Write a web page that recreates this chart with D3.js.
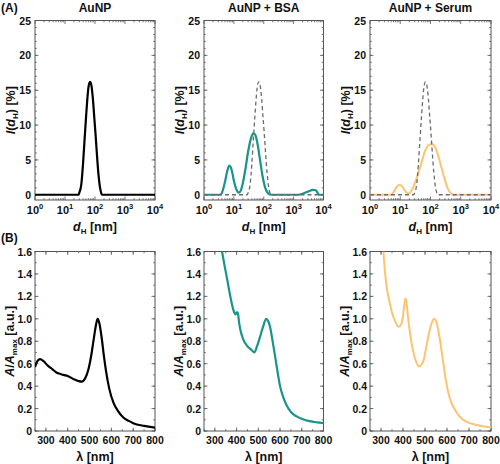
<!DOCTYPE html>
<html><head><meta charset="utf-8">
<script src="https://cdn.jsdelivr.net/npm/d3@7"></script>
<style>
body{margin:0;background:#fff;}
svg{font-family:"Liberation Sans",Arial,sans-serif;font-weight:bold;}
</style></head>
<body><svg id="c" width="500" height="464"></svg>
<script>
// ---------- DATA ----------
const panelTitles = ["AuNP", "AuNP + BSA", "AuNP + Serum"];
const seriesColors = ["#000000", "#17958a", "#fdc46f"];
// DLS intensity distributions: diameter [nm], intensity [%]
const dlsAuNP_d = [1, 25, 28, 30, 35, 40, 45, 50, 55, 60, 68, 75, 85, 95, 105, 115, 130, 145, 160, 170, 10000];
const dlsAuNP_I = [0, 0, 0, 0.3, 1.5, 4.5, 8, 11, 13.5, 15.3, 16.2, 15.8, 13.8, 11, 8.5, 6, 3, 1.2, 0.3, 0, 0];
const dlsBSA_d = [1, 3.5, 4, 5, 6, 7, 8, 9, 10, 12, 14.7, 17, 20, 25, 30, 38, 45, 52, 60, 75, 90, 110, 140, 180, 1500, 2000, 3000, 4500, 5500, 6500, 7000, 10000];
const dlsBSA_I = [0, 0, 0.3, 1.8, 3.4, 4.2, 3.9, 3.0, 2.0, 0.8, 0.3, 0.6, 1.7, 4.0, 6.2, 8.2, 8.8, 8.6, 7.6, 5, 2.8, 1.1, 0.2, 0, 0, 0.15, 0.45, 0.7, 0.65, 0.2, 0, 0];
const dlsSerum_d = [1, 5, 6, 7.5, 9.5, 12, 15, 19, 23, 30, 40, 50, 65, 85, 110, 140, 180, 230, 300, 380, 480, 570, 10000];
const dlsSerum_I = [0, 0, 0.4, 1.1, 1.45, 1.1, 0.45, 0.2, 0.5, 1.6, 3.2, 4.6, 6.2, 7.1, 7.3, 6.9, 5.6, 3.9, 2.1, 0.8, 0.15, 0, 0];
// UV-vis spectra: wavelength [nm], A/Amax
const uvAuNP_w = [250, 260, 273, 290, 310, 330, 350, 365, 380, 400, 430, 450, 464, 480, 495, 510, 520, 530, 537, 545, 555, 565, 575, 590, 610, 630, 655, 680, 700, 750, 800];
const uvAuNP_A = [0.57, 0.62, 0.64, 0.62, 0.58, 0.55, 0.52, 0.51, 0.50, 0.49, 0.46, 0.445, 0.44, 0.47, 0.55, 0.70, 0.83, 0.95, 1.0, 0.96, 0.84, 0.68, 0.54, 0.38, 0.25, 0.18, 0.12, 0.09, 0.07, 0.045, 0.03];
const uvBSA_w = [333, 345, 356, 371, 385, 395, 402, 406, 412, 420, 432, 450, 470, 481, 495, 508, 522, 536, 545, 554, 565, 577, 590, 600, 615, 630, 650, 676, 705, 736, 770, 800];
const uvBSA_A = [1.6, 1.47, 1.36, 1.2, 1.08, 1.04, 1.06, 1.05, 0.96, 0.88, 0.81, 0.755, 0.72, 0.70, 0.76, 0.84, 0.93, 1.0, 0.98, 0.93, 0.81, 0.67, 0.51, 0.40, 0.30, 0.23, 0.17, 0.13, 0.105, 0.088, 0.077, 0.07];
const uvSerum_w = [311, 318, 326, 341, 352, 364, 379, 390, 398, 405, 411, 415, 420, 426, 439, 459, 474, 492, 505, 515, 530, 541, 552, 560, 572, 583, 595, 606, 620, 636, 655, 674, 700, 735, 770, 800];
const uvSerum_A = [1.6, 1.42, 1.28, 1.13, 1.04, 0.98, 0.93, 0.945, 1.0, 1.11, 1.18, 1.16, 1.07, 0.96, 0.785, 0.62, 0.576, 0.62, 0.74, 0.845, 0.96, 1.0, 0.97, 0.90, 0.76, 0.61, 0.45, 0.34, 0.25, 0.19, 0.135, 0.1, 0.072, 0.054, 0.04, 0.03];
// ticks
const logTicks = [1, 10, 100, 1000, 10000];
const dlsYTicks = [0, 5, 10, 15, 20, 25];
const uvXTicks = [300, 400, 500, 600, 700, 800];
const uvYTicks = [0, 0.2, 0.4, 0.6, 0.8, 1.0, 1.2, 1.4, 1.6];

// ---------- LAYOUT ----------
const svg = d3.select("#c");
const cols = [[35, 155], [204, 323.5], [370, 491]];
const topY = [20.5, 200];
const botY = [251.5, 431];
const frameColor = "#555";

function frame(g, x0, x1, y0, y1) {
  g.append("rect").attr("x", x0).attr("y", y0).attr("width", x1 - x0).attr("height", y1 - y0)
    .attr("fill", "none").attr("stroke", frameColor).attr("stroke-width", 1);
}
function ticksAll(g, xs, ys, xScale, yScale, x0, x1, y0, y1, len) {
  xs.forEach(v => {
    const px = xScale(v);
    g.append("line").attr("x1", px).attr("x2", px).attr("y1", y1).attr("y2", y1 - len).attr("stroke", frameColor).attr("stroke-width", 0.8);
    g.append("line").attr("x1", px).attr("x2", px).attr("y1", y0).attr("y2", y0 + len).attr("stroke", frameColor).attr("stroke-width", 0.8);
  });
  ys.forEach(v => {
    const py = yScale(v);
    g.append("line").attr("x1", x0).attr("x2", x0 + len).attr("y1", py).attr("y2", py).attr("stroke", frameColor).attr("stroke-width", 0.8);
    g.append("line").attr("x1", x1).attr("x2", x1 - len).attr("y1", py).attr("y2", py).attr("stroke", frameColor).attr("stroke-width", 0.8);
  });
}
function zip(a, b) { return a.map((v, i) => [v, b[i]]); }

const dlsSets = [zip(dlsAuNP_d, dlsAuNP_I), zip(dlsBSA_d, dlsBSA_I), zip(dlsSerum_d, dlsSerum_I)];
const uvSets = [zip(uvAuNP_w, uvAuNP_A), zip(uvBSA_w, uvBSA_A), zip(uvSerum_w, uvSerum_A)];

cols.forEach((c, i) => {
  const [x0, x1] = c;
  // ----- top row DLS -----
  const gT = svg.append("g");
  const xs = d3.scaleLog().domain([1, 10000]).range([x0, x1]);
  const ys = d3.scaleLinear().domain([-0.75, 25]).range([topY[1], topY[0]]);
  frame(gT, x0, x1, topY[0], topY[1]);
  const minorX = [];
  for (let e = 0; e < 4; e++) for (let m = 2; m <= 9; m++) minorX.push(m * Math.pow(10, e));
  ticksAll(gT, minorX, d3.range(0, 26, 1), xs, ys, x0, x1, topY[0], topY[1], 1.8);
  ticksAll(gT, logTicks, dlsYTicks, xs, ys, x0, x1, topY[0], topY[1], 3.5);
  const lineT = d3.line().x(d => xs(d[0])).y(d => ys(d[1])).curve(d3.curveMonotoneX);
  gT.append("path").datum(dlsSets[i]).attr("d", lineT).attr("fill", "none")
    .attr("stroke", seriesColors[i]).attr("stroke-width", i === 2 ? 2 : 2.2).attr("stroke-linejoin", "round");
  if (i > 0) {
    gT.append("path").datum(dlsSets[0]).attr("d", lineT).attr("fill", "none")
      .attr("stroke", "#6b6b6b").attr("stroke-width", 1.3).attr("stroke-dasharray", "4,3");
  }
  logTicks.forEach((v, k) => {
    const t = gT.append("text").attr("x", xs(v)).attr("y", 214).attr("text-anchor", "middle")
      .attr("font-size", 11).attr("fill", "#111");
    t.append("tspan").text("10");
    t.append("tspan").attr("dy", -5).attr("font-size", 7.5).text(String(k));
  });
  dlsYTicks.forEach(v => {
    gT.append("text").attr("x", x0 - 4).attr("y", ys(v) + 4).attr("text-anchor", "end")
      .attr("font-size", 10.5).attr("fill", "#111").text(v);
  });
  const xt = gT.append("text").attr("x", (x0 + x1) / 2).attr("y", 231).attr("text-anchor", "middle")
    .attr("font-size", 12.5).attr("fill", "#111");
  xt.append("tspan").attr("font-style", "italic").text("d");
  xt.append("tspan").attr("font-size", 8).attr("dy", 3).text("H");
  xt.append("tspan").attr("dy", -3).text(" [nm]");
  const yt = gT.append("text").attr("transform", `translate(${x0 - 20},${(topY[0] + topY[1]) / 2}) rotate(-90)`)
    .attr("text-anchor", "middle").attr("font-size", 12.5).attr("fill", "#111");
  yt.append("tspan").attr("font-style", "italic").text("I");
  yt.append("tspan").text("(");
  yt.append("tspan").attr("font-style", "italic").text("d");
  yt.append("tspan").attr("font-size", 8).attr("dy", 3).text("H");
  yt.append("tspan").attr("dy", -3).text(") [%]");
  svg.append("text").attr("x", (x0 + x1) / 2).attr("y", 12).attr("text-anchor", "middle")
    .attr("font-size", 12).attr("fill", "#111").text(panelTitles[i]);

  // ----- bottom row UV-vis -----
  const gB = svg.append("g");
  const xb = d3.scaleLinear().domain([250, 800]).range([x0, x1]);
  const yb = d3.scaleLinear().domain([0, 1.6]).range([botY[1], botY[0]]);
  gB.append("defs").append("clipPath").attr("id", "cb" + i).append("rect")
    .attr("x", x0).attr("y", botY[0]).attr("width", x1 - x0).attr("height", botY[1] - botY[0]);
  frame(gB, x0, x1, botY[0], botY[1]);
  ticksAll(gB, d3.range(250, 801, 50), d3.range(0, 1.61, 0.1), xb, yb, x0, x1, botY[0], botY[1], 1.8);
  ticksAll(gB, uvXTicks, uvYTicks, xb, yb, x0, x1, botY[0], botY[1], 3.5);
  const lineB = d3.line().x(d => xb(d[0])).y(d => yb(d[1])).curve(d3.curveMonotoneX);
  gB.append("path").datum(uvSets[i]).attr("d", lineB).attr("fill", "none").attr("clip-path", `url(#cb${i})`)
    .attr("stroke", seriesColors[i]).attr("stroke-width", i === 2 ? 2 : 2.2).attr("stroke-linejoin", "round");
  uvXTicks.forEach(v => {
    gB.append("text").attr("x", xb(v)).attr("y", 444).attr("text-anchor", "middle")
      .attr("font-size", 10.5).attr("fill", "#111").text(v);
  });
  uvYTicks.forEach(v => {
    gB.append("text").attr("x", x0 - 3).attr("y", yb(v) + 4).attr("text-anchor", "end")
      .attr("font-size", 10.5).attr("fill", "#111").text(v === 0 ? "0" : v.toFixed(1));
  });
  gB.append("text").attr("x", (x0 + x1) / 2).attr("y", 461).attr("text-anchor", "middle")
    .attr("font-size", 12.5).attr("fill", "#111").text("λ [nm]");
  const yb2 = gB.append("text").attr("transform", `translate(${x0 - 21},${(botY[0] + botY[1]) / 2}) rotate(-90)`)
    .attr("text-anchor", "middle").attr("font-size", 12.5).attr("fill", "#111");
  yb2.append("tspan").attr("font-style", "italic").text("A");
  yb2.append("tspan").text("/");
  yb2.append("tspan").attr("font-style", "italic").text("A");
  yb2.append("tspan").attr("font-size", 8).attr("dy", 3).text("max");
  yb2.append("tspan").attr("dy", -3).text(" [a.u.]");
});

svg.append("text").attr("x", 1).attr("y", 12).attr("font-size", 12).attr("fill", "#111").text("(A)");
svg.append("text").attr("x", 1).attr("y", 242).attr("font-size", 12).attr("fill", "#111").text("(B)");
</script></body></html>
